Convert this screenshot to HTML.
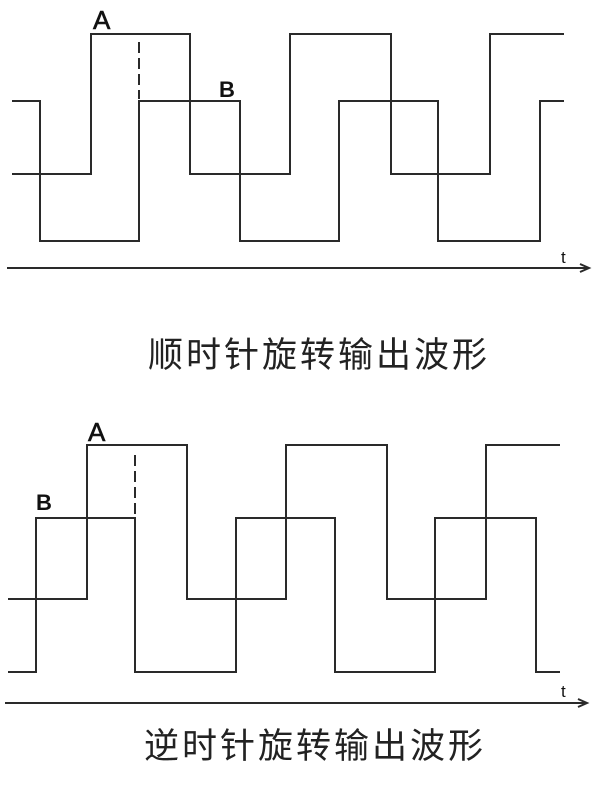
<!DOCTYPE html>
<html><head><meta charset="utf-8"><style>
html,body{margin:0;padding:0;background:#fff;width:600px;height:785px;overflow:hidden}
svg{display:block}
</style></head><body>
<svg width="600" height="785" viewBox="0 0 600 785" xmlns="http://www.w3.org/2000/svg">
<g fill="none" stroke="#2a2a2a" stroke-width="2">
<polyline points="12,174 91,174 91,34 190,34 190,174 290,174 290,34 391,34 391,174 490,174 490,34 564,34"/>
<polyline points="12,101 40,101 40,241 139,241 139,101 240,101 240,241 339,241 339,101 438,101 438,241 540,241 540,101 564,101"/>
<line x1="139" y1="42" x2="139" y2="99" stroke-dasharray="11,5"/>
<line x1="7" y1="268" x2="588" y2="268"/>
<polyline points="580,264 589,268 580,272"/>
<polyline points="8,599 87,599 87,445 187,445 187,599 286,599 286,445 387,445 387,599 486,599 486,445 560,445"/>
<polyline points="8,672 36,672 36,518 135,518 135,672 236,672 236,518 335,518 335,672 435,672 435,518 536,518 536,672 560,672"/>
<line x1="135" y1="455" x2="135" y2="516" stroke-dasharray="11,5"/>
<line x1="5" y1="703" x2="586" y2="703"/>
<polyline points="578,699 587,703 578,707"/>
</g>
<g font-family="Liberation Sans, sans-serif" fill="#111">
<text x="93" y="29" font-size="26" stroke="#111" stroke-width="0.6">A</text>
<text x="219" y="97" font-size="22" font-weight="bold">B</text>
<text x="561" y="263" font-size="17">t</text>
<text x="88" y="441" font-size="26" stroke="#111" stroke-width="0.6">A</text>
<text x="36" y="510" font-size="22" font-weight="bold">B</text>
<text x="561" y="697" font-size="17">t</text>
</g>
<g font-family="Liberation Sans, Noto Sans CJK SC, sans-serif" fill="#222" font-size="35">
<text x="319" y="367" text-anchor="middle" letter-spacing="3">顺时针旋转输出波形</text>
<text x="315" y="758" text-anchor="middle" letter-spacing="3">逆时针旋转输出波形</text>
</g>
</svg>
</body></html>
